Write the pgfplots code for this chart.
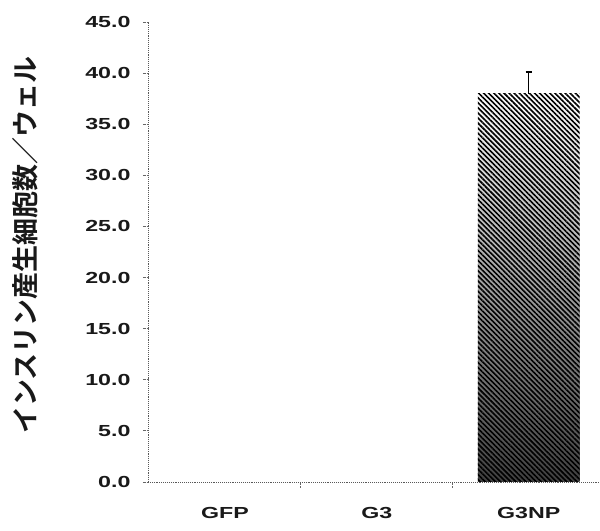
\documentclass[border=0pt]{standalone}
\usepackage{pgfplots}
\pgfplotsset{compat=1.18}
\usepackage{fontspec}
\setmainfont{Liberation Sans}
\newfontfamily\tickfont{Liberation Sans Bold}[FakeStretch=1.45]
\newfontfamily\jp{Noto Sans CJK JP Bold}
\usetikzlibrary{patterns.meta,calc}

\begin{document}
\begin{tikzpicture}
\begin{axis}[
  name=ax, at={(0,0)}, anchor=south west,
  scale only axis, width=452pt, height=460pt,
  xmin=-0.507, xmax=2.47, ymin=0, ymax=45,
  axis x line=bottom, axis y line=left,
  axis line style={-, densely dotted, black!65, line width=0.9pt},
  xtick={0.5,1.5}, xticklabels={},
  extra x ticks={0,1,2}, extra x tick labels={GFP,G3,G3NP},
  extra x tick style={major tick length=0pt},
  ytick={0,5,...,45},
  tick style={densely dotted, black!60, line width=0.9pt},
  tick align=outside, major tick length=5pt,
  /pgf/number format/fixed, /pgf/number format/fixed zerofill,
  /pgf/number format/precision=1, /pgf/number format/assume math mode=true,
  ticklabel style={font=\tickfont\fontsize{16}{16}\selectfont, text=black!90},
  xticklabel style={yshift=-22pt},
  yticklabel style={xshift=-9pt},
  ylabel={\jp インスリン産生細胞数／ウェル},
  every axis y label/.style={at={(axis description cs:-0.272,0.515)}, rotate=90, anchor=center, font=\fontsize{27}{27}\selectfont, text=black!90},
]
\addplot[ybar, bar width=0.67, bar shift=0pt, draw=none,
  top color=white, bottom color=black!75]
  coordinates {(2,38.0)};
\addplot[ybar, bar width=0.67, bar shift=0pt, draw=none,
  pattern={Lines[angle=-45, distance=3.6pt, line width=1.6pt]}, pattern color=black,
  error bars/.cd, y dir=plus, y explicit,
  error bar style={line width=1.5pt, black},
  error mark options={rotate=90, line width=1.2pt, mark size=3pt, black}]
  coordinates {(2,38.0) +- (0,2.1)};
\end{axis}
\pgfresetboundingbox
\path[use as bounding box] ($(ax.south west)+(-148pt,-49pt)$) rectangle ($(ax.north east)+(0pt,22pt)$);
\end{tikzpicture}
\end{document}
